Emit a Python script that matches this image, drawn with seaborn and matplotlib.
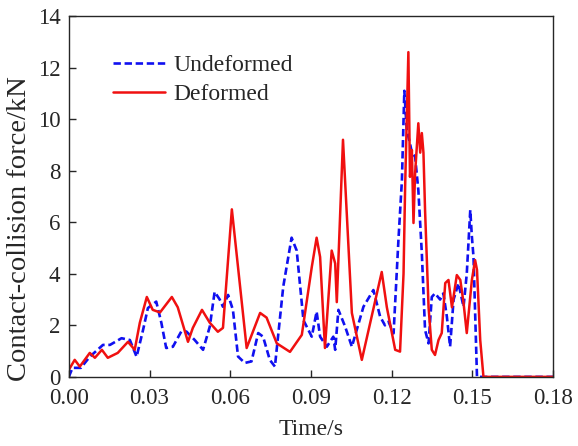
import numpy as np
import pandas as pd
import matplotlib
matplotlib.use('Agg')
import matplotlib.pyplot as plt
import seaborn as sns

# Undeformed (blue dashed)
t_undef = [0.0, 0.0014, 0.0045, 0.0078, 0.0127, 0.0153, 0.0196, 0.0227, 0.0252, 0.0276,
           0.0294, 0.0325, 0.0344, 0.0362, 0.0387, 0.0418, 0.0437, 0.0468, 0.0499, 0.0524,
           0.0542, 0.0561, 0.0573, 0.0592, 0.0610, 0.0629, 0.0654, 0.0679, 0.0704, 0.0722,
           0.0747, 0.0766, 0.0797, 0.0828, 0.0847, 0.0872, 0.0903, 0.0921, 0.0934, 0.0959,
           0.0983, 0.0990, 0.1002, 0.1027, 0.1052, 0.1095, 0.1132, 0.1157, 0.1175, 0.1188,
           0.1207, 0.1225, 0.1238, 0.1247, 0.1256, 0.1268, 0.1275, 0.1287, 0.1299, 0.1312,
           0.1324, 0.1337, 0.1349, 0.1361, 0.1380, 0.1392, 0.1405, 0.1417, 0.1430, 0.1448,
           0.1467, 0.1479, 0.1492, 0.1498, 0.1504, 0.1517, 0.1530, 0.18]
f_undef = [0.0, 0.35, 0.35, 0.78, 1.24, 1.24, 1.5, 1.43, 0.78, 1.82,
           2.67, 2.92, 2.1, 1.12, 1.17, 1.76, 1.76, 1.43, 1.05, 1.95,
           3.3, 3.0, 2.72, 3.18, 2.6, 0.79, 0.54, 0.6, 1.7, 1.56,
           0.66, 0.4, 3.5, 5.4, 4.9, 2.2, 1.56, 2.53, 1.56, 1.17,
           1.56, 1.05, 2.6, 1.95, 1.17, 2.72, 3.37, 2.34, 2.0, 2.14,
           1.69, 5.3, 7.63, 11.1, 9.57, 9.06, 8.7, 8.54, 7.25, 4.8,
           1.82, 1.3, 3.1, 3.24, 3.0, 3.24, 2.34, 1.17, 3.0, 3.63,
           2.72, 4.0, 6.47, 5.44, 4.66, 0.0, 0.0, 0.0]

# Deformed (red solid)
t_def = [0.0, 0.0022, 0.0041, 0.0078, 0.0097, 0.0123, 0.0145, 0.0182, 0.0220, 0.0245,
         0.0264, 0.0290, 0.0312, 0.0339, 0.0383, 0.0405, 0.0443, 0.0461, 0.0495, 0.0524,
         0.0554, 0.0573, 0.0606, 0.0661, 0.0711, 0.0735, 0.0773, 0.0822, 0.0866, 0.0903,
         0.0921, 0.0934, 0.0952, 0.0977, 0.0990, 0.0996, 0.1019, 0.1052, 0.1089, 0.1163,
         0.1182, 0.1213, 0.1231, 0.1244, 0.1250, 0.1262, 0.1268, 0.1275, 0.1281, 0.1287,
         0.1299, 0.1306, 0.1312, 0.1318, 0.1324, 0.1337, 0.1349, 0.1361, 0.1374, 0.1386,
         0.1399, 0.1411, 0.1424, 0.1442, 0.1455, 0.1467, 0.1479, 0.1498, 0.1510, 0.1517,
         0.1529, 0.1541, 0.18]
f_def = [0.27, 0.66, 0.4, 0.93, 0.74, 1.05, 0.74, 0.93, 1.36, 1.05,
         2.1, 3.1, 2.6, 2.5, 3.1, 2.7, 1.36, 1.9, 2.6, 2.1,
         1.75, 1.9, 6.5, 1.12, 2.48, 2.3, 1.3, 0.97, 1.63, 4.26,
         5.4, 4.65, 1.12, 4.9, 4.4, 2.9, 9.2, 2.48, 0.66, 4.07,
         2.7, 1.05, 0.98, 4.0, 7.4, 12.6, 7.76, 8.8, 5.97, 7.9,
         9.84, 8.7, 9.46, 8.7, 6.47, 2.7, 1.05, 0.85, 1.43, 1.7,
         3.64, 3.76, 2.7, 3.95, 3.76, 2.87, 1.7, 3.76, 4.53, 4.15,
         1.43, 0.0, 0.0]

df_u = pd.DataFrame({'t': t_undef, 'f': f_undef})
df_d = pd.DataFrame({'t': t_def, 'f': f_def})

sns.set_style('ticks')
plt.rcParams['font.family'] = ['Liberation Serif', 'DejaVu Serif']
plt.rcParams['xtick.direction'] = 'in'
plt.rcParams['ytick.direction'] = 'in'

fig = plt.figure(figsize=(5.78, 4.46), dpi=100)
ax = fig.add_axes([0.119, 0.155, 0.838, 0.809])

sns.lineplot(data=df_u, x='t', y='f', ax=ax, color='#1010f0', lw=1.9,
             linestyle=(0, (2.8, 1.4)), label='Undeformed', estimator=None, sort=False)
sns.lineplot(data=df_d, x='t', y='f', ax=ax, color='#f01010', lw=1.8,
             label='Deformed', estimator=None, sort=False)

ax.set_xlim(0, 0.18)
ax.set_ylim(0, 14)
ax.set_xticks(np.arange(0, 0.181, 0.03))
ax.set_xticklabels(['0.00', '0.03', '0.06', '0.09', '0.12', '0.15', '0.18'])
ax.set_yticks(np.arange(0, 15, 2))
ax.tick_params(labelsize=16.5, length=5, width=1)
ax.tick_params(axis='x', pad=8)
ax.tick_params(axis='y', pad=6)
for s in ax.spines.values():
    s.set_linewidth(1)
ax.set_xlabel('Time/s', fontsize=17, labelpad=7)
ax.set_ylabel('Contact-collision force/kN', fontsize=20.5)
ax.yaxis.set_label_coords(-0.076, 0.41)

ax.legend(loc='upper left', bbox_to_anchor=(0.047, 0.952), frameon=False,
          fontsize=17, handlelength=2.2, handletextpad=0.35, labelspacing=0.3)

fig.savefig('out.png', dpi=100)
